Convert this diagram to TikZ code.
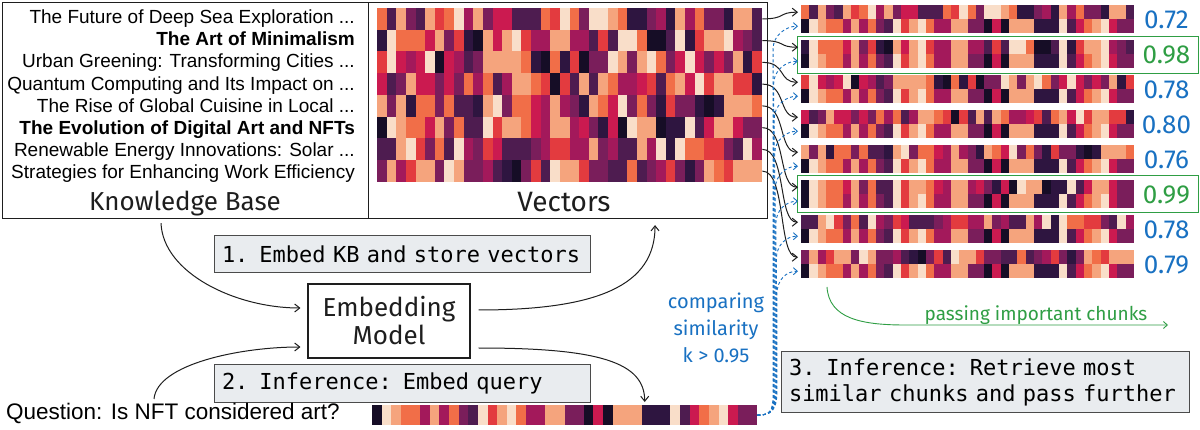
\documentclass[tikz,border=0pt]{standalone}
\usepackage{fontspec}
\setmainfont{Liberation Sans}
\newfontfamily\hand{Fira Sans}
\newfontfamily\mono{DejaVu Sans Mono}
\usetikzlibrary{arrows.meta,calc}
\definecolor{hm0}{HTML}{160D26}
\definecolor{hm1}{HTML}{2E1540}
\definecolor{hm2}{HTML}{4E1C50}
\definecolor{hm3}{HTML}{7A1E5B}
\definecolor{hm4}{HTML}{A3195B}
\definecolor{hm5}{HTML}{CB1A50}
\definecolor{hm6}{HTML}{E33B3F}
\definecolor{hm7}{HTML}{F16E48}
\definecolor{hm8}{HTML}{F5A47D}
\definecolor{hm9}{HTML}{F9DEC9}
\definecolor{exblue}{HTML}{1971C2}
\definecolor{exgreen}{HTML}{2F9E44}
\definecolor{boxgray}{HTML}{E9ECEF}
\definecolor{ink}{HTML}{1E1E1E}
\def\hmA{7,2,8,3,2,8,6,7,9,4,8,3,5,5,2,2,2,7,6,9,7,3,9,9,8,7,1,1,3,4,1,8,4,7,3,3,1,8,8,2}
\def\hmB{1,9,7,7,7,5,8,3,6,1,0,8,5,8,9,6,4,4,8,8,4,4,2,6,2,9,9,7,0,0,2,9,1,6,8,8,9,4,3,2}
\def\hmC{6,9,5,4,5,9,0,5,4,2,3,8,8,8,8,7,1,0,7,1,6,0,3,3,9,8,3,8,9,7,3,5,9,5,3,5,3,8,1,6}
\def\hmD{5,2,3,8,5,5,3,5,3,7,4,7,2,4,8,8,7,6,0,6,2,8,2,8,7,4,4,5,6,2,7,8,5,9,6,8,8,6,6,1}
\def\hmE{8,3,8,1,7,7,3,7,2,2,1,8,9,3,7,7,5,4,8,4,3,1,8,7,5,9,3,7,3,1,6,3,3,1,0,1,8,8,8,7}
\def\hmF{0,9,8,7,7,5,8,3,7,2,2,9,6,8,8,7,5,4,8,8,4,5,3,1,5,0,9,8,8,0,1,1,9,2,5,8,8,5,3,3}
\def\hmG{2,2,8,9,6,3,7,2,9,4,3,6,5,2,2,2,3,4,6,6,4,4,8,3,4,2,2,8,4,9,1,9,7,7,6,6,3,2,9,4}
\def\hmH{3,8,4,6,8,8,3,9,8,3,3,4,2,1,0,3,6,2,9,8,8,6,3,3,2,2,7,2,3,4,6,3,1,3,8,7,6,8,8,8}
\def\hmQ{0,9,8,7,7,4,8,4,7,3,2,9,6,8,9,7,4,4,8,8,3,3,0,5,0,8,8,8,1,1,1,9,2,5,7,8,9,5,3,3}
\newcommand\hmcells[5]{\foreach \hv [count=\hc from 0] in #5 {\fill[hm\hv] ({#1+\hc*#3},{#2}) rectangle ({#1+(\hc+1)*#3+0.4},{#2+#4});}}
\begin{document}
\begin{tikzpicture}[x=1pt,y=-1pt,
  frame/.style={draw=ink, line width=1.1, inner sep=0},
  listtxt/.style={anchor=east, inner sep=0, font=\fontsize{19}{22}\selectfont, text height=13.5, text depth=2},
  handlbl/.style={font=\hand\fontsize{26}{30}\selectfont, text=ink},
  score/.style={font=\hand\fontsize{26}{28}\selectfont},
  gbox/.style={draw=ink!80, fill=boxgray, line width=1, font=\mono\fontsize{22}{26}\selectfont, align=left, inner xsep=8, inner ysep=0},
  conn/.style={draw=ink, line width=1, -{Straight Barb[length=5,width=8]}},
  bconn/.style={draw=exblue, line width=0.9, dash pattern=on 3 off 2.5, -{Straight Barb[length=4,width=7]}},
  gconn/.style={draw=exgreen, line width=0.9, -{Straight Barb[length=4,width=7]}},
  cellbox/.style={inner sep=0, anchor=north west}
]
\useasboundingbox (0,0) rectangle (1200,430);
\fill[white] (0,0) rectangle (1200,430);

% frames
\node[frame, minimum width=366, minimum height=216, anchor=north west] (kb) at (2,2) {};
\node[frame, minimum width=399, minimum height=216, anchor=north west] (vec) at (368,2) {};

% knowledge base list
\node[listtxt] (t1) at (355,18) {The Future of Deep Sea Exploration ...};
\node[listtxt] (t2) at (355,40) {\textbf{The Art of Minimalism}};
\node[listtxt] (t3) at (355,62) {Urban Greening: Transforming Cities ...};
\node[listtxt] (t4) at (355,85) {Quantum Computing and Its Impact on ...};
\node[listtxt] (t5) at (355,107) {The Rise of Global Cuisine in Local ...};
\node[listtxt] (t6) at (355,129) {\textbf{The Evolution of Digital Art and NFTs}};
\node[listtxt] (t7) at (355,151) {Renewable Energy Innovations: Solar ...};
\node[listtxt] (t8) at (355,173) {Strategies for Enhancing Work Efficiency};
\node[handlbl] (kbl) at (185,204) {Knowledge Base};
\node[handlbl, font=\hand\fontsize{28}{30}\selectfont] (vecl) at (564,202) {Vectors};

% main heatmap
\hmcells{377}{8}{9.625}{21.75}{\hmA}
\hmcells{377}{29.75}{9.625}{21.75}{\hmB}
\hmcells{377}{51.5}{9.625}{21.75}{\hmC}
\hmcells{377}{73.25}{9.625}{21.75}{\hmD}
\hmcells{377}{95}{9.625}{21.75}{\hmE}
\hmcells{377}{116.75}{9.625}{21.75}{\hmF}
\hmcells{377}{138.5}{9.625}{21.75}{\hmG}
\hmcells{377}{160.25}{9.625}{21.75}{\hmH}
\node[cellbox, minimum width=385, minimum height=174] (hm) at (377,8) {};

% right strips
\hmcells{801}{5}{8.325}{14}{\hmA}   \hmcells{801}{19}{8.325}{14}{\hmQ}
\hmcells{801}{40}{8.325}{14}{\hmB}  \hmcells{801}{54}{8.325}{14}{\hmQ}
\hmcells{801}{75}{8.325}{14}{\hmC}  \hmcells{801}{89}{8.325}{14}{\hmQ}
\hmcells{801}{110}{8.325}{14}{\hmD} \hmcells{801}{124}{8.325}{14}{\hmQ}
\hmcells{801}{145}{8.325}{14}{\hmE} \hmcells{801}{159}{8.325}{14}{\hmQ}
\hmcells{801}{180}{8.325}{14}{\hmF} \hmcells{801}{194}{8.325}{14}{\hmQ}
\hmcells{801}{215}{8.325}{14}{\hmG} \hmcells{801}{229}{8.325}{14}{\hmQ}
\hmcells{801}{250}{8.325}{14}{\hmH} \hmcells{801}{264}{8.325}{14}{\hmQ}
\foreach \k in {1,...,8} {\node[cellbox, minimum width=333, minimum height=28] (s\k) at (801,{5+35*(\k-1)}) {};}

% query vector
\hmcells{372}{405}{9.625}{20}{\hmQ}
\node[cellbox, minimum width=385, minimum height=20] (q) at (372,405) {};

% green highlight boxes
\node[draw=exgreen, line width=1.1, cellbox, minimum width=401, minimum height=37] (g1) at (797,36) {};
\node[draw=exgreen, line width=1.1, cellbox, minimum width=401, minimum height=37] (g2) at (797,175) {};

% scores
\foreach \k/\t/\col in {1/0.72/exblue,2/0.98/exgreen,3/0.78/exblue,4/0.80/exblue,5/0.76/exblue,6/0.99/exgreen,7/0.78/exblue,8/0.79/exblue}
  {\node[score, text=\col] (sc\k) at ($(s\k.east)+(32,1)$) {\t};}

% row -> strip arrows
\foreach \k in {1,...,8} {\coordinate (ro\k) at ($(hm.north east)+(0,{21.75*(\k-0.5)})$);}
\foreach \k in {1,...,8}
  {\draw[conn] (ro\k) .. controls +(24,0) and +(-20,0) .. ([shift={(-3,-7)}]s\k.west);}

% query -> strips (dashed blue)
\foreach \k in {1,...,8}
  {\coordinate (bl\k) at ({772.5+0.55*\k},392);
   \draw[bconn] (q.east) .. controls +(14,0) and +(0,18) .. (bl\k) -- ($(bl\k |- s\k.west)+(0,30)$) .. controls +(0,-14) and +(-12,0) .. ([shift={(-3,7)}]s\k.west);}

% embedding model
\node[draw=ink, line width=1.1, minimum width=162, minimum height=74, align=center, font=\hand\fontsize{26}{28}\selectfont, text=ink] (em) at (389,321) {Embedding\\Model};

\node[gbox, text width=360, minimum height=37] (b1) at (402,254.5) {1. Embed KB and store vectors};
\node[gbox, text width=360, minimum height=37] (b2) at (402,383.5) {2. Inference: Embed query};
\node[gbox, text width=392, minimum height=60] (b3) at (985,382) {3. Inference: Retrieve most\\similar chunks and pass further};

\node[anchor=west, inner sep=0, font=\fontsize{22.5}{26}\selectfont] (qq) at (6,413) {Question: Is NFT considered art?};

\draw[conn] ([shift={(159,4)}]kb.south west) .. controls +(2,50) and +(-65,0) .. ([shift={(-7,-13)}]em.west);
\draw[conn] ([shift={(148,-14)}]qq.west) .. controls +(3,-35) and +(-60,0) .. ([shift={(-7,26)}]em.west);
\draw[conn] ([shift={(8,-11)}]em.east) .. controls +(120,0) and +(0,60) .. ([shift={(87,6)}]vec.south);
\draw[conn] ([shift={(8,27)}]em.east) .. controls +(120,0) and +(0,-40) .. ([shift={(80,-3)}]q.north);

% comparing label
\node[align=center, font=\hand\fontsize{20}{27}\selectfont, text=exblue] (cmp) at (716,328) {comparing\\similarity\\k > 0.95};

% passing important chunks
\coordinate (gs) at (827,287);
\coordinate (gm) at (905,325);
\coordinate (ge) at (1168,325);
\draw[gconn] (gs) .. controls (829,318) and (860,325) .. (gm) -- (ge);
\node[anchor=base, inner sep=0, font=\hand\fontsize{19}{22}\selectfont, text=exgreen] (pic) at (1036,321) {passing important chunks};
\end{tikzpicture}
\end{document}
